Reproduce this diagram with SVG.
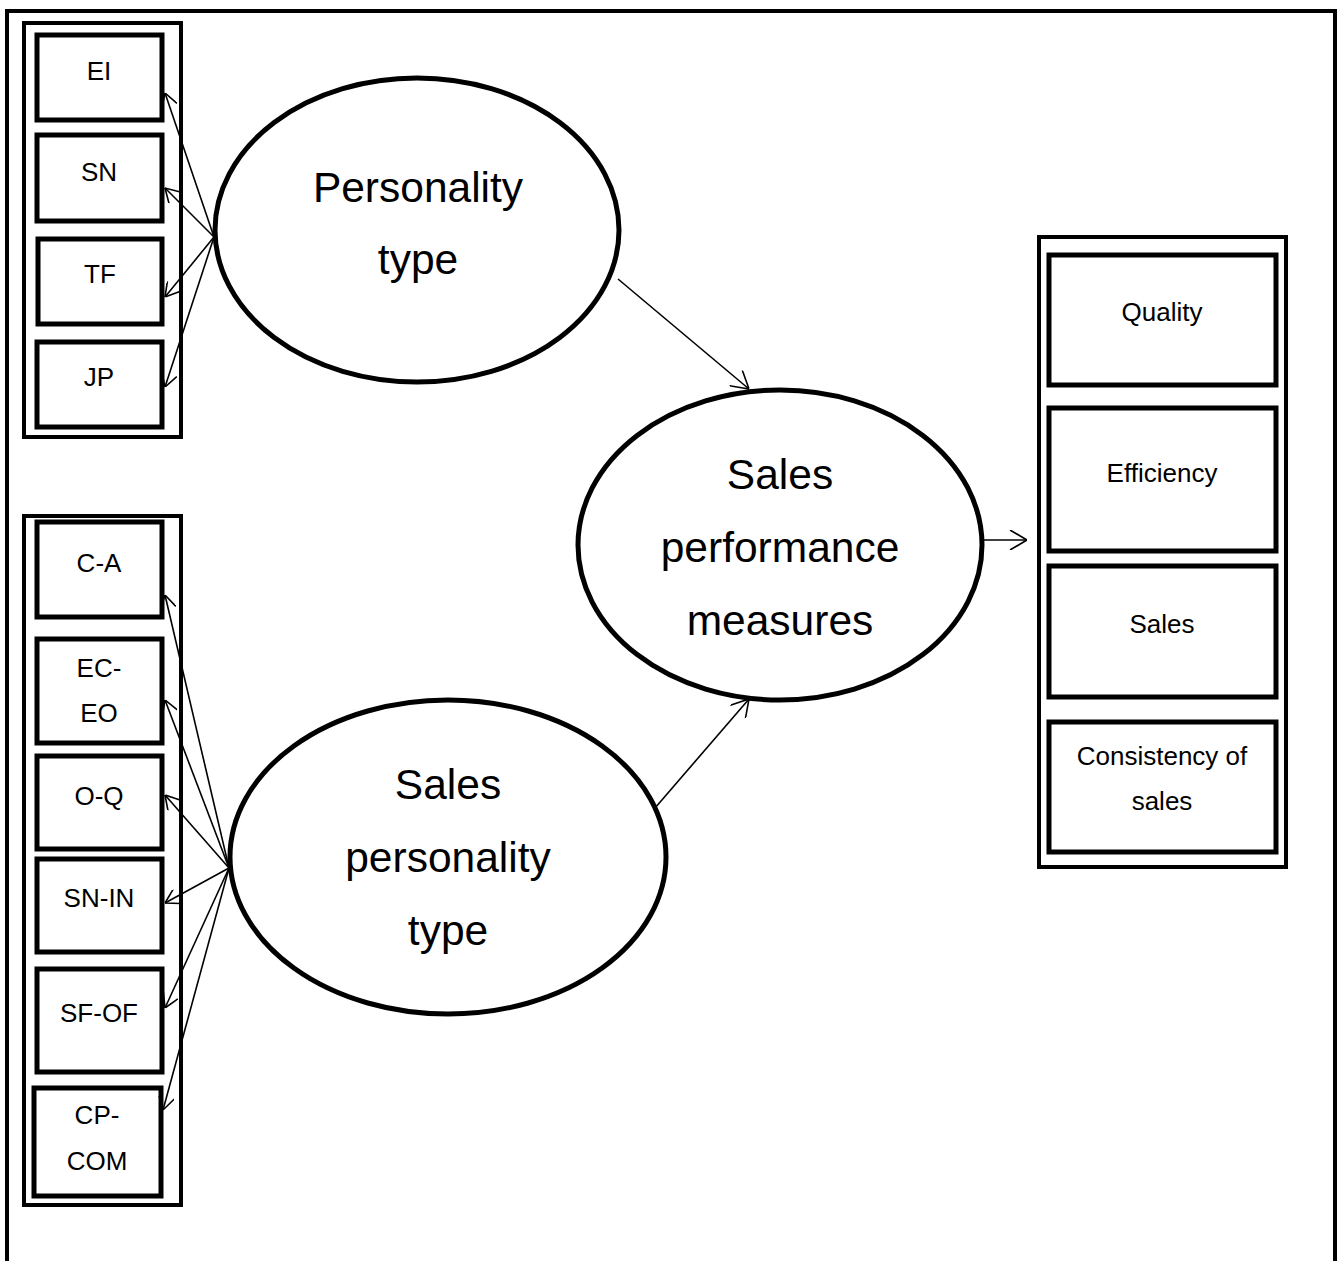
<svg xmlns="http://www.w3.org/2000/svg" width="1342" height="1261" viewBox="0 0 1342 1261">
  <style>
    .frame { fill: none; stroke: #000; stroke-width: 4; }
    .group { fill: #fff; stroke: #000; stroke-width: 4; }
    .box { fill: #fff; stroke: #000; stroke-width: 5; }
    .oval { fill: #fff; stroke: #000; stroke-width: 5; }
    .lbl { font-family: "Liberation Sans", Arial, sans-serif; font-size: 26px; fill: #000; text-anchor: middle; }
    .big { font-family: "Liberation Sans", Arial, sans-serif; font-size: 42.5px; fill: #000; text-anchor: middle; }
    .link { fill: none; stroke: #000; stroke-width: 1.6; }
  </style>
  <defs>
    <marker id="arrow" viewBox="0 0 20 20" refX="20" refY="10" markerWidth="20" markerHeight="20" markerUnits="userSpaceOnUse" orient="auto">
      <path d="M3,0 L20,10 L3,20" fill="none" stroke="#000" stroke-width="1.6"/>
    </marker>
    <marker id="arrowSmall" viewBox="0 0 20 20" refX="20" refY="10" markerWidth="16" markerHeight="16" markerUnits="userSpaceOnUse" orient="auto">
      <path d="M3,0 L20,10 L3,20" fill="none" stroke="#000" stroke-width="2"/>
    </marker>
  </defs>

  <!-- page frame (open at the bottom) -->
  <path class="frame" d="M7,1261 V11 H1335 V1261"/>

  <!-- personality type indicators -->
  <g id="personality-indicators">
    <rect class="group" x="24" y="23" width="157" height="414"/>
    <g id="box-EI"><rect class="box" x="37" y="35" width="125" height="85"/><text class="lbl" x="99" y="80">EI</text></g>
    <g id="box-SN"><rect class="box" x="37" y="135" width="125" height="86"/><text class="lbl" x="99" y="181">SN</text></g>
    <g id="box-TF"><rect class="box" x="38" y="239" width="124" height="85"/><text class="lbl" x="100" y="283">TF</text></g>
    <g id="box-JP"><rect class="box" x="37" y="342" width="125" height="85"/><text class="lbl" x="99" y="386">JP</text></g>
  </g>

  <!-- sales personality indicators -->
  <g id="sales-personality-indicators">
    <rect class="group" x="24" y="516" width="157" height="689"/>
    <g id="box-CA"><rect class="box" x="37" y="522" width="125" height="95"/><text class="lbl" x="99" y="572">C-A</text></g>
    <g id="box-ECEO"><rect class="box" x="37" y="639" width="125" height="104"/><text class="lbl" x="99" y="677">EC-</text><text class="lbl" x="99" y="722">EO</text></g>
    <g id="box-OQ"><rect class="box" x="37" y="756" width="125" height="93"/><text class="lbl" x="99" y="805">O-Q</text></g>
    <g id="box-SNIN"><rect class="box" x="37" y="859" width="125" height="93"/><text class="lbl" x="99" y="907">SN-IN</text></g>
    <g id="box-SFOF"><rect class="box" x="37" y="969" width="125" height="103"/><text class="lbl" x="99" y="1022">SF-OF</text></g>
    <g id="box-CPCOM"><rect class="box" x="34" y="1088" width="127" height="108"/><text class="lbl" x="97" y="1124">CP-</text><text class="lbl" x="97" y="1170">COM</text></g>
  </g>

  <!-- performance measures -->
  <g id="performance-measures">
    <rect class="group" x="1039" y="237" width="247" height="630"/>
    <g id="box-quality"><rect class="box" x="1049" y="255" width="227" height="130"/><text class="lbl" x="1162" y="321">Quality</text></g>
    <g id="box-efficiency"><rect class="box" x="1049" y="408" width="227" height="143"/><text class="lbl" x="1162" y="482">Efficiency</text></g>
    <g id="box-sales"><rect class="box" x="1049" y="566" width="227" height="131"/><text class="lbl" x="1162" y="633">Sales</text></g>
    <g id="box-consistency"><rect class="box" x="1049" y="722" width="227" height="130"/><text class="lbl" x="1162" y="765">Consistency of</text><text class="lbl" x="1162" y="810">sales</text></g>
  </g>

  <!-- latent constructs -->
  <g id="personality-type">
    <ellipse class="oval" cx="417" cy="230" rx="202" ry="152"/>
    <text class="big" x="418" y="202">Personality</text>
    <text class="big" x="418" y="274">type</text>
  </g>
  <g id="sales-performance">
    <ellipse class="oval" cx="780" cy="545" rx="202" ry="155"/>
    <text class="big" x="780" y="489">Sales</text>
    <text class="big" x="780" y="562">performance</text>
    <text class="big" x="780" y="635">measures</text>
  </g>
  <g id="sales-personality-type">
    <ellipse class="oval" cx="448" cy="857" rx="218" ry="157"/>
    <text class="big" x="448" y="799">Sales</text>
    <text class="big" x="448" y="872">personality</text>
    <text class="big" x="448" y="945">type</text>
  </g>

  <!-- connectors -->
  <g id="connectors">
    <line class="link" x1="214" y1="237" x2="165" y2="93" marker-end="url(#arrowSmall)"/>
    <line class="link" x1="214" y1="237" x2="165" y2="188" marker-end="url(#arrowSmall)"/>
    <line class="link" x1="214" y1="237" x2="165" y2="297" marker-end="url(#arrowSmall)"/>
    <line class="link" x1="214" y1="237" x2="165" y2="387" marker-end="url(#arrowSmall)"/>

    <line class="link" x1="229" y1="868" x2="165" y2="595" marker-end="url(#arrowSmall)"/>
    <line class="link" x1="229" y1="868" x2="165" y2="700" marker-end="url(#arrowSmall)"/>
    <line class="link" x1="229" y1="868" x2="165" y2="795" marker-end="url(#arrowSmall)"/>
    <line class="link" x1="229" y1="868" x2="165" y2="903" marker-end="url(#arrowSmall)"/>
    <line class="link" x1="229" y1="868" x2="165" y2="1008" marker-end="url(#arrowSmall)"/>
    <line class="link" x1="229" y1="868" x2="163" y2="1110" marker-end="url(#arrowSmall)"/>

    <line class="link" x1="618" y1="279" x2="749" y2="389" marker-end="url(#arrow)"/>
    <line class="link" x1="655" y1="808" x2="749" y2="699" marker-end="url(#arrow)"/>
    <line class="link" x1="983" y1="540" x2="1027" y2="540" marker-end="url(#arrow)"/>
  </g>
</svg>
